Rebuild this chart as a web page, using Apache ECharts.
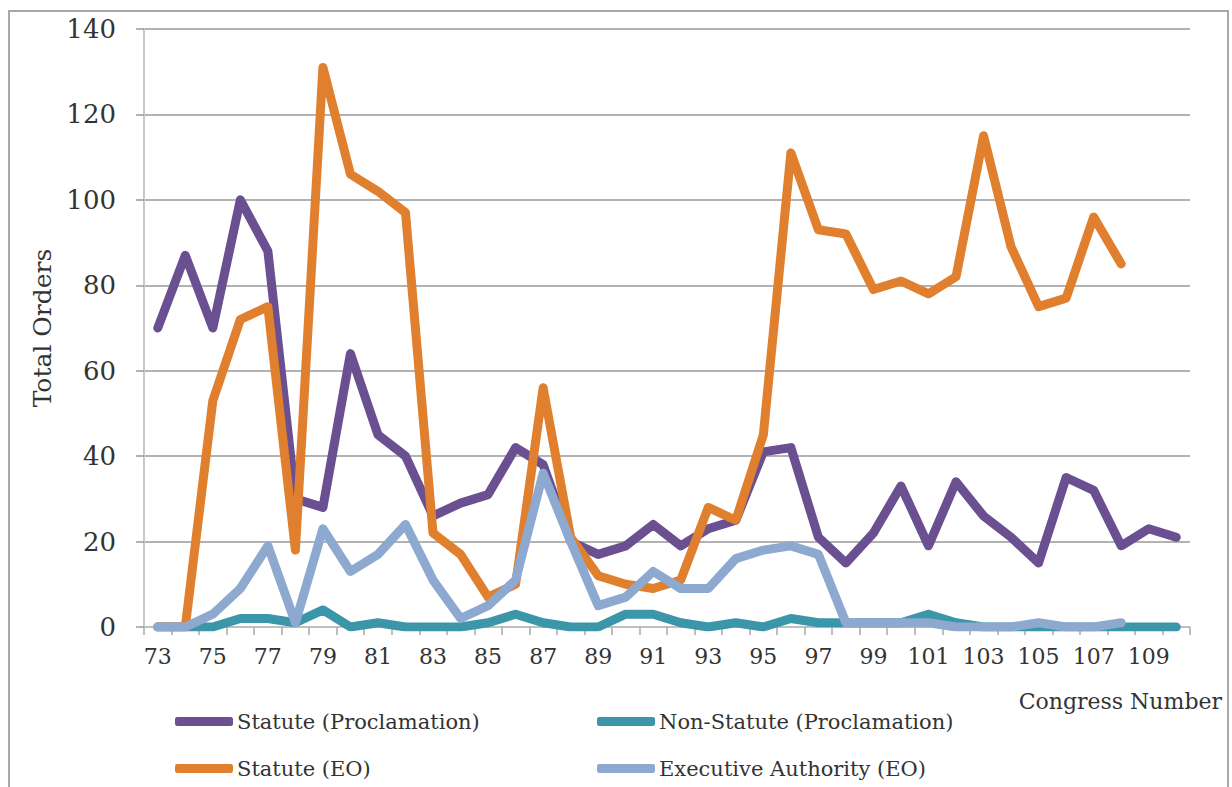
<!DOCTYPE html>
<html>
<head>
<meta charset="utf-8">
<script src="https://cdn.jsdelivr.net/npm/echarts@6/dist/echarts.min.js"></script>
<style>
html,body{margin:0;padding:0;background:#fff;}
#chart{width:1232px;height:787px;}
</style>
</head>
<body>
<div id="chart"></div>
<script>
// ---- data ----
const congress = ['73','74','75','76','77','78','79','80','81','82','83','84','85','86','87','88','89','90','91','92','93','94','95','96','97','98','99','100','101','102','103','104','105','106','107','108','109','110'];
const statuteProclamation = [70,87,70,100,88,30,28,64,45,40,26,29,31,42,38,20,17,19,24,19,23,25,41,42,21,15,22,33,19,34,26,21,15,35,32,19,23,21];
const nonStatuteProclamation = [0,0,0,2,2,1,4,0,1,0,0,0,1,3,1,0,0,3,3,1,0,1,0,2,1,1,1,1,3,1,0,0,0,0,0,0,0,0];
const statuteEO = [0,0,53,72,75,18,131,106,102,97,22,17,7,10,56,21,12,10,9,11,28,25,45,111,93,92,79,81,78,82,115,89,75,77,96,85,null,null];
const executiveAuthorityEO = [0,0,3,9,19,1,23,13,17,24,11,2,5,11,36,20,5,7,13,9,9,16,18,19,17,1,1,1,1,0,0,0,1,0,0,1,null,null];
const yTicks = {min:0, max:140, interval:20};
const seriesNames = ['Statute (Proclamation)','Non-Statute (Proclamation)','Statute (EO)','Executive Authority (EO)'];
const seriesColors = ['#6a4f91','#3b96a9','#e0802f','#8ea9d0'];

const FONT = 'DejaVu Serif';
const chart = echarts.init(document.getElementById('chart'), null, {renderer:'svg'});

function mkSeries(i, data){
  return {
    name: seriesNames[i], type:'line', data: data, symbol:'none',
    color: seriesColors[i],
    lineStyle:{width:9, color: seriesColors[i], cap:'round', join:'round'},
    connectNulls:false
  };
}
function mkLegend(name, left, top){
  return {
    data:[name], left:left, top:top, padding:0, itemWidth:58, itemHeight:9,
    icon:'roundRect', selectedMode:false,
    textStyle:{fontFamily:FONT, fontSize:21, color:'#333', padding:[0,0,0,-1]}
  };
}

chart.setOption({
  animation:false,
  backgroundColor:'#fff',
  title:{text:'Congress Number', right:10, top:690, padding:0,
    textStyle:{fontFamily:FONT, fontSize:22, fontWeight:'normal', color:'#333'}},
  graphic:[{type:'rect', shape:{x:9, y:11, width:1219, height:800},
    style:{fill:'none', stroke:'#a8a8a8', lineWidth:2}, silent:true}],
  legend:[
    mkLegend(seriesNames[0], 175, 711),
    mkLegend(seriesNames[1], 597, 711),
    mkLegend(seriesNames[2], 175, 758),
    mkLegend(seriesNames[3], 597, 758)
  ],
  grid:{left:144, right:42, top:29, bottom:160, containLabel:false},
  xAxis:{
    type:'category', data:congress, boundaryGap:true,
    axisLine:{show:true, lineStyle:{color:'#c4c4c4', width:1.5}},
    axisTick:{show:true, interval:0, length:8, lineStyle:{color:'#aaa', width:1.5}},
    axisLabel:{interval:1, margin:18, fontFamily:FONT, fontSize:22, color:'#333'},
    splitLine:{show:false}
  },
  yAxis:{
    type:'value', min:yTicks.min, max:yTicks.max, interval:yTicks.interval,
    name:'Total Orders', nameLocation:'middle', nameGap:73,
    nameTextStyle:{fontFamily:FONT, fontSize:25, color:'#333'},
    axisLine:{show:true, lineStyle:{color:'#c8c8c8', width:2}},
    axisTick:{show:true, length:8, lineStyle:{color:'#999', width:1.5}},
    axisLabel:{margin:28, fontFamily:FONT, fontSize:26, color:'#333'},
    splitLine:{show:true, lineStyle:{color:'#999', width:1.5}}
  },
  series:[
    mkSeries(0, statuteProclamation),
    mkSeries(1, nonStatuteProclamation),
    mkSeries(2, statuteEO),
    mkSeries(3, executiveAuthorityEO)
  ]
});
</script>
</body>
</html>
